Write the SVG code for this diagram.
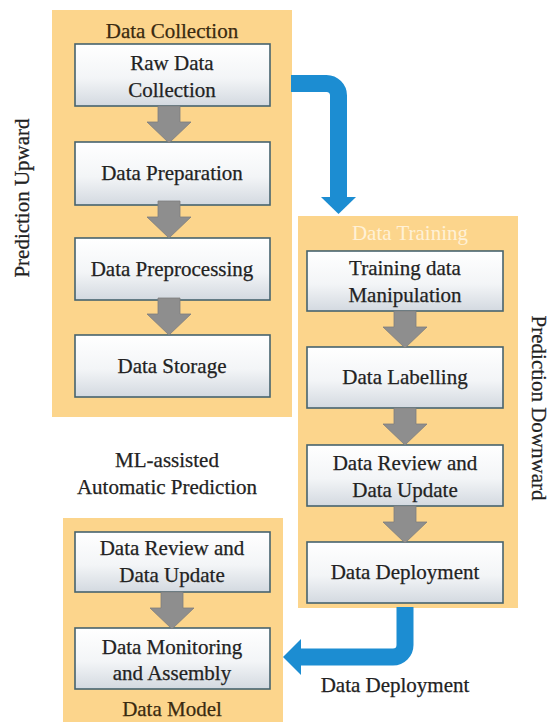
<svg xmlns="http://www.w3.org/2000/svg" width="550" height="722" viewBox="0 0 550 722">
  <style>
    .panel { fill: #FCD58C; }
    .box { fill: url(#boxFill); stroke: #46636E; stroke-width: 1.6; }
    .t { font-family: "Liberation Serif", Tinos, "Times New Roman", "DejaVu Serif", serif; font-size: 21px; fill: #222222; stroke: #222222; stroke-width: 0.25; text-anchor: middle; dominant-baseline: central; }
    .title { fill: #3A2A10; stroke: #3A2A10; }
    .faint { fill: #FFF1D6; stroke: none; }
    .step { fill: #8E8E8E; stroke: #7E7E7E; stroke-width: 0.8; }
    .flow { fill: none; stroke: #1C8DD2; stroke-width: 17; }
    .flowHead { fill: #1C8DD2; }
  </style>
  <defs>
    <linearGradient id="boxFill" x1="0" y1="0" x2="0" y2="1">
      <stop offset="0" stop-color="#FFFFFF"/>
      <stop offset="0.55" stop-color="#F3F5F7"/>
      <stop offset="1" stop-color="#D3D9E0"/>
    </linearGradient>
    <!-- gray step arrow, drawn with its top at the origin -->
    <path id="stepArrow" class="step" d="M-11,0 H11 V16 H22 L0,37 L-22,16 H-11 Z"/>
  </defs>

  <rect width="550" height="722" fill="#FFFFFF"/>

  <!-- Data Collection stage -->
  <g id="data-collection">
    <rect class="panel" x="52" y="10" width="240" height="407"/>
    <text class="t title" x="172" y="31">Data Collection</text>
  </g>
  <g id="raw-data-collection">
    <rect class="box" x="75" y="44" width="195" height="62"/>
    <text class="t" x="172" y="63">Raw Data</text>
    <text class="t" x="172" y="90">Collection</text>
  </g>
  <g id="data-preparation">
    <rect class="box" x="75" y="142" width="195" height="63"/>
    <text class="t" x="172" y="173">Data Preparation</text>
  </g>
  <g id="data-preprocessing">
    <rect class="box" x="75" y="238" width="195" height="62"/>
    <text class="t" x="172" y="269">Data Preprocessing</text>
  </g>
  <g id="data-storage">
    <rect class="box" x="75" y="335" width="195" height="62"/>
    <text class="t" x="172" y="366">Data Storage</text>
  </g>

  <!-- Data Training stage -->
  <g id="data-training">
    <rect class="panel" x="298" y="216" width="220" height="392"/>
    <text class="t faint" x="410" y="233">Data Training</text>
  </g>
  <g id="training-data-manipulation">
    <rect class="box" x="307" y="251" width="196" height="60"/>
    <text class="t" x="405" y="268">Training  data</text>
    <text class="t" x="405" y="295">Manipulation</text>
  </g>
  <g id="data-labelling">
    <rect class="box" x="307" y="347" width="196" height="61"/>
    <text class="t" x="405" y="377">Data Labelling</text>
  </g>
  <g id="training-review-update">
    <rect class="box" x="307" y="445" width="196" height="61"/>
    <text class="t" x="405" y="463">Data Review and</text>
    <text class="t" x="405" y="490">Data Update</text>
  </g>
  <g id="training-deployment">
    <rect class="box" x="307" y="542" width="196" height="61"/>
    <text class="t" x="405" y="572">Data Deployment</text>
  </g>

  <!-- Data Model stage -->
  <g id="data-model">
    <rect class="panel" x="63" y="518" width="220" height="210"/>
    <text class="t title" x="172" y="709">Data Model</text>
  </g>
  <g id="model-review-update">
    <rect class="box" x="75" y="532" width="195" height="60"/>
    <text class="t" x="172" y="548">Data Review and</text>
    <text class="t" x="172" y="575">Data Update</text>
  </g>
  <g id="data-monitoring">
    <rect class="box" x="75" y="628" width="195" height="61"/>
    <text class="t" x="172" y="647">Data Monitoring</text>
    <text class="t" x="172" y="673">and Assembly</text>
  </g>

  <!-- free labels -->
  <g id="labels">
    <text class="t" x="167" y="460">ML-assisted</text>
    <text class="t" x="167" y="487">Automatic Prediction</text>
    <text class="t" x="395" y="685">Data Deployment</text>
    <text class="t" transform="translate(22,198) rotate(-90)">Prediction Upward</text>
    <text class="t" transform="translate(539,408) rotate(90)">Prediction Downward</text>
  </g>

  <!-- connectors -->
  <g id="connectors">
    <use href="#stepArrow" x="169" y="106"/>
    <use href="#stepArrow" x="169" y="201"/>
    <use href="#stepArrow" x="169" y="298"/>
    <use href="#stepArrow" x="405" y="311"/>
    <use href="#stepArrow" x="405" y="408"/>
    <use href="#stepArrow" x="405" y="506"/>
    <use href="#stepArrow" x="172" y="592"/>

    <path class="flow" d="M291,83.5 H326.5 A12,12 0 0 1 338.5,95.5 V198"/>
    <polygon class="flowHead" points="321,197 356,197 338.5,214"/>

    <path class="flow" d="M405,607 V645 A12,12 0 0 1 393,657 H299"/>
    <polygon class="flowHead" points="301,639 301,675 283,657"/>
  </g>
</svg>
